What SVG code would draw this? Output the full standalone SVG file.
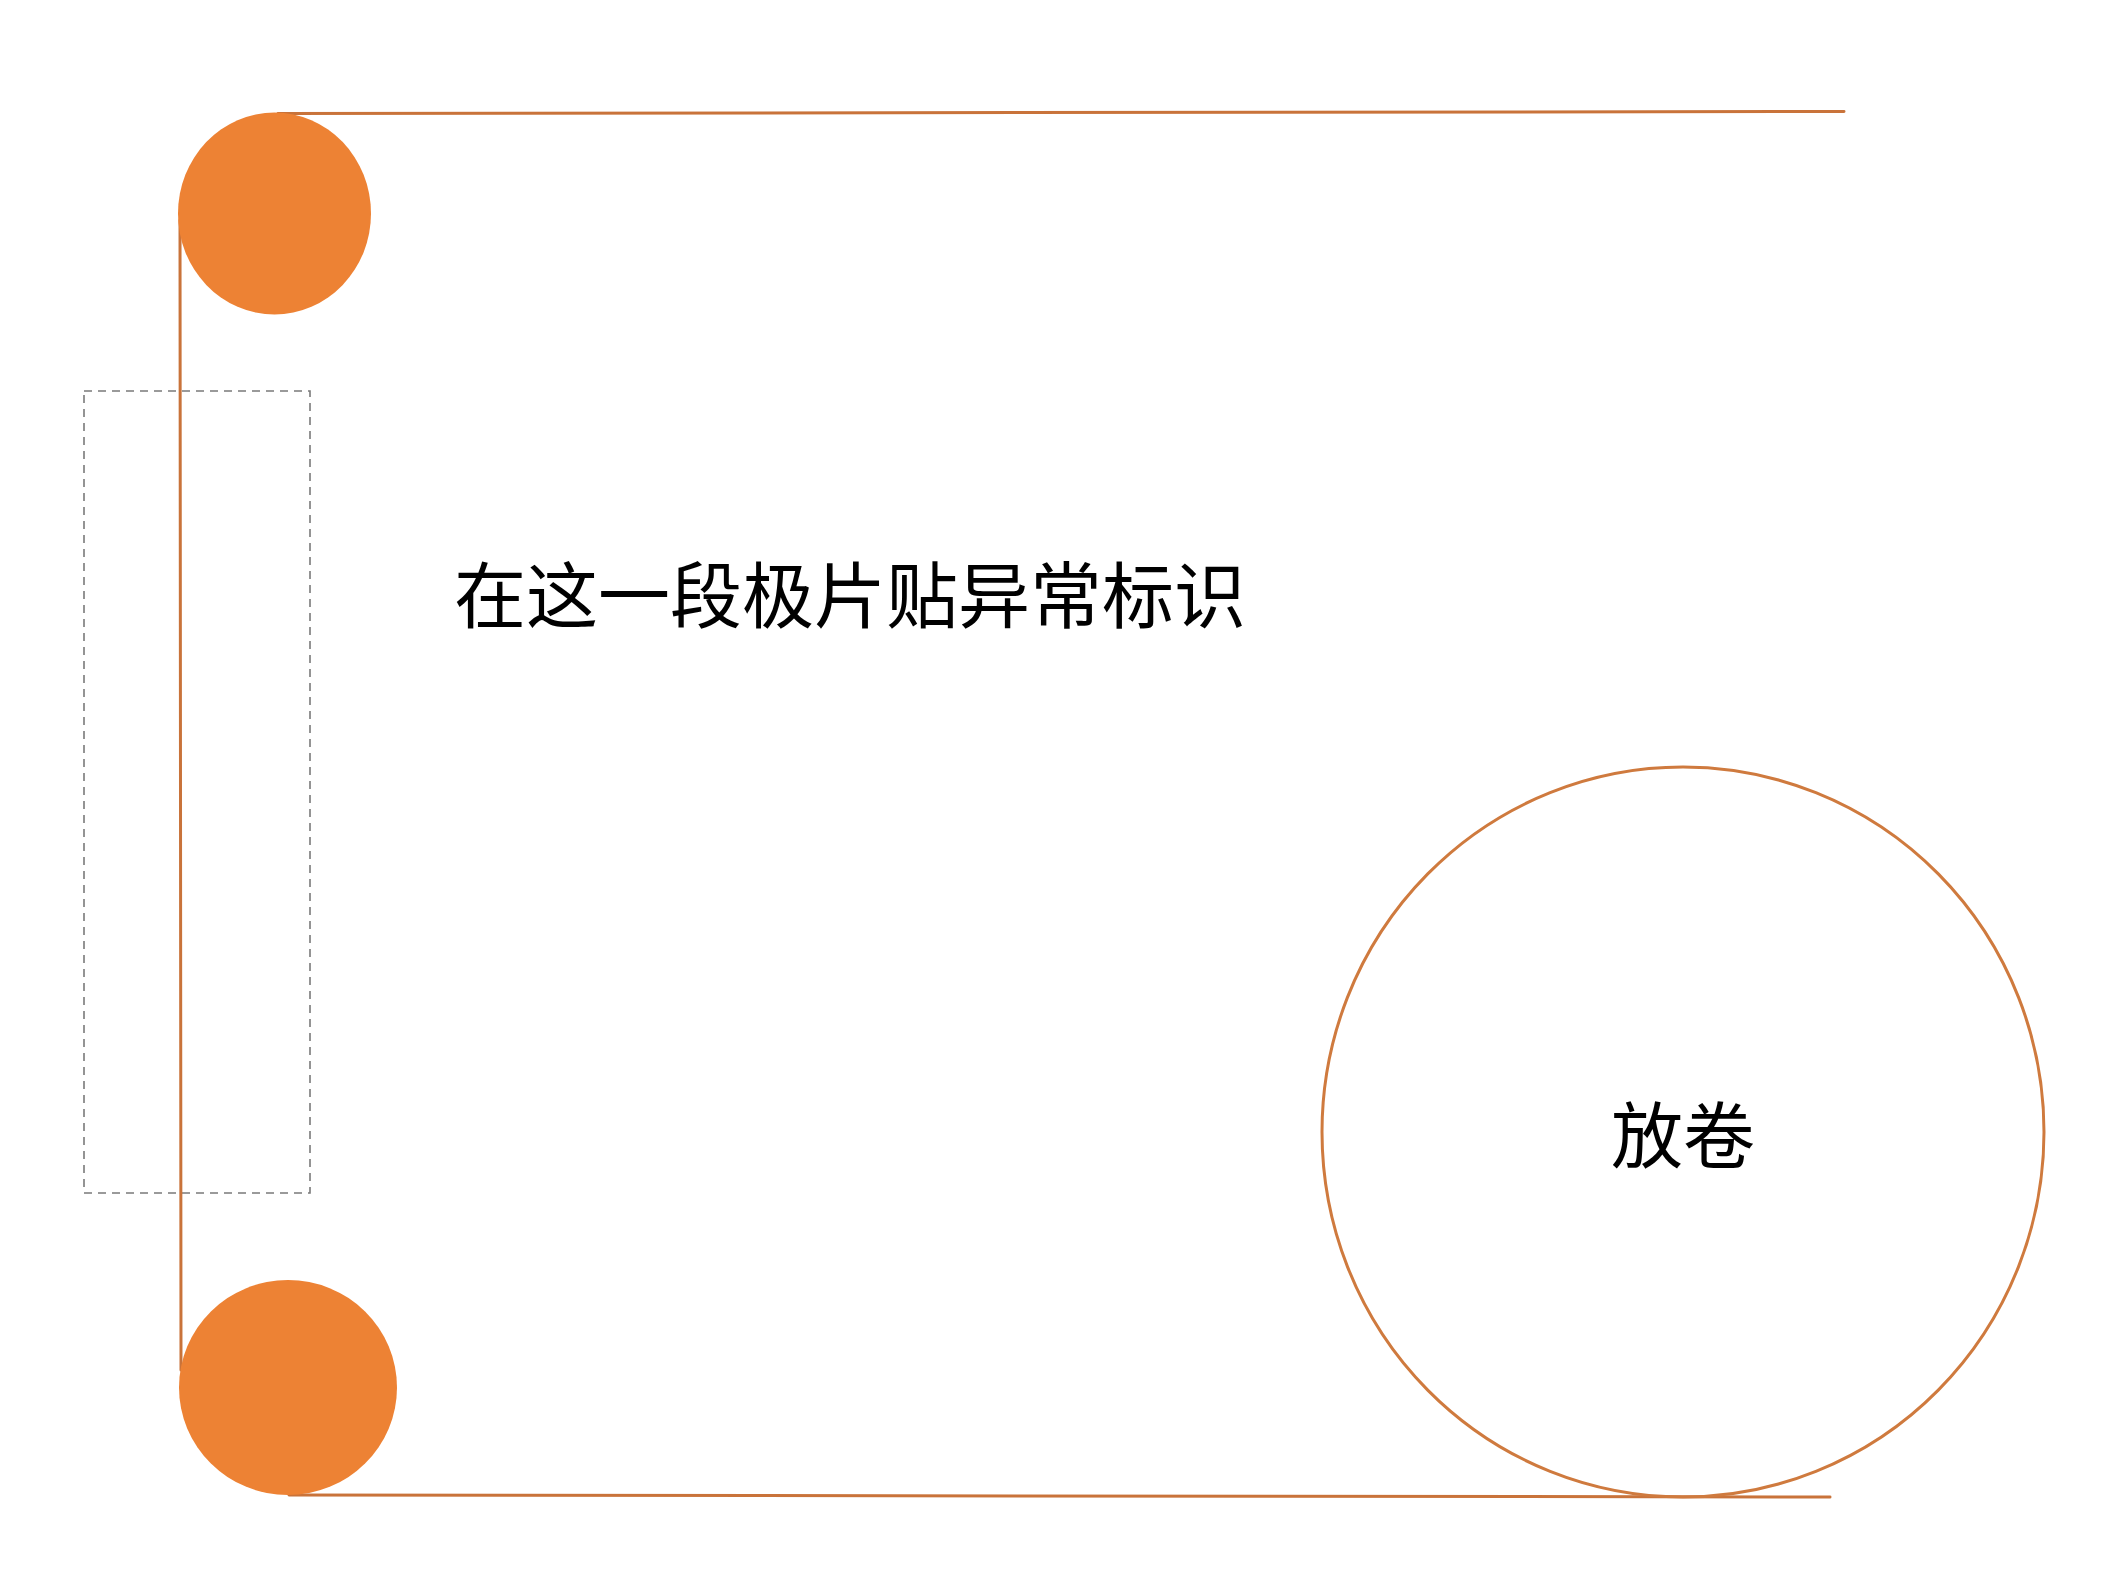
<svg xmlns="http://www.w3.org/2000/svg" width="2126" height="1590" viewBox="0 0 2126 1590">
<style>
.web{fill:none;stroke:#C9733A;stroke-width:3;stroke-linecap:round}
.roller{fill:#ED8234;stroke:none}
.reel{fill:none;stroke:#CF7A3E;stroke-width:3}
.zone{fill:none;stroke:#7A7A7A;stroke-width:1.6;stroke-dasharray:8 6}
.lbl{font-family:"Noto Sans CJK SC","Noto Sans CJK JP",sans-serif;font-size:72px;fill:#000}
</style>
<rect x="0" y="0" width="2126" height="1590" fill="#FFFFFF"/>
<g id="marker-zone">
<rect class="zone" x="84" y="391" width="226" height="802"/>
</g>
<g id="connectors">
<path class="web" d="M278,113.5 L1844,111.5"/>
<path class="web" d="M180,220 L181,1370"/>
<path class="web" d="M289,1495 L1830,1497"/>
</g>
<g id="roller-top">
<ellipse class="roller" cx="274.5" cy="213.5" rx="96.5" ry="101"/>
</g>
<g id="roller-bottom">
<ellipse class="roller" cx="288" cy="1387.5" rx="109" ry="107.5"/>
</g>
<g id="unwind-reel">
<ellipse class="reel" cx="1683" cy="1132" rx="361" ry="365"/>
<text class="lbl" x="1683" y="1162" text-anchor="middle">放卷</text>
</g>
<g id="note">
<text class="lbl" x="454" y="622">在这一段极片贴异常标识</text>
</g>
</svg>
